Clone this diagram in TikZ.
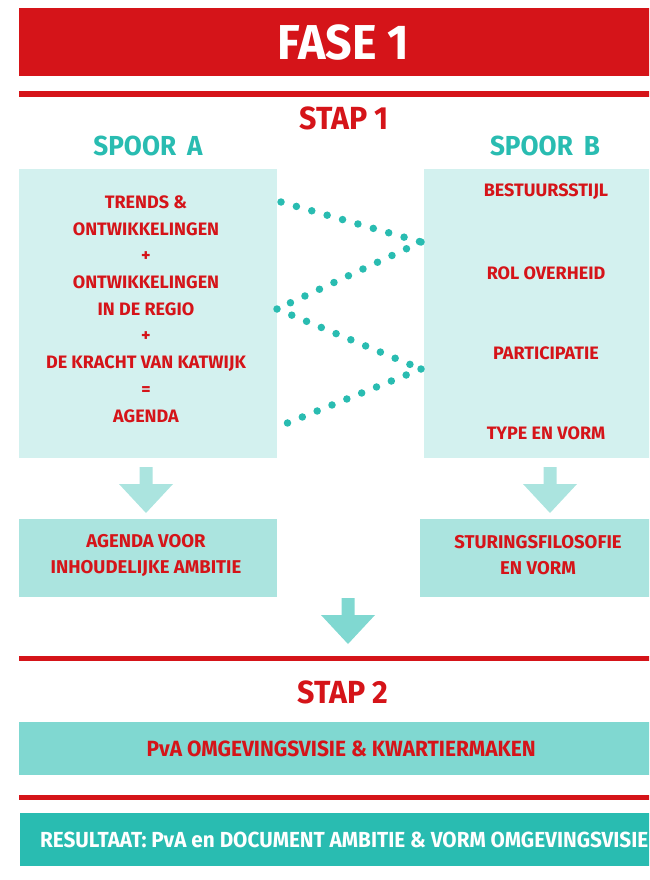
\documentclass[tikz,border=0pt]{standalone}
\usepackage{fontspec}
\newfontfamily\titlefont{Fira Sans}[FakeStretch=0.95]
\newfontfamily\boxfont{Fira Sans}[FakeStretch=1.0]
\usetikzlibrary{positioning,calc}

\definecolor{faseRed}{HTML}{D51419}
\definecolor{aquaLight}{HTML}{D3F1EF}
\definecolor{aquaMid}{HTML}{ABE4DF}
\definecolor{aquaDark}{HTML}{80D8D1}
\definecolor{spoorTeal}{HTML}{29BCB1}

\tikzset{
  redbar/.style={faseRed, line width=5.5pt},
  dots/.style={spoorTeal, line width=7.5pt, line cap=round, dash pattern=on 0pt off 16pt},
  area/.style={anchor=north west, inner sep=0pt},
  boxtext/.style={text=faseRed, align=center, font=\boxfont\bfseries\fontsize{18}{26.7}\selectfont},
  blockarrow/.pic={\fill[#1] (-6.5,0) -- (6.5,0) -- (6.5,17) -- (27,17) -- (0,46) -- (-27,17) -- (-6.5,17) -- cycle;}
}

\begin{document}
\begin{tikzpicture}[x=1pt,y=-1pt]
    \clip (0,0) rectangle (649,880) ;
    % fase 1
    \node[area, fill=faseRed, minimum width=649pt, minimum height=68pt, text=white,
          font=\titlefont\bfseries\fontsize{49}{49}\selectfont] (fase) at (19,8) {FASE 1} ;
    \draw[redbar] (19,94) -- (668,94) ;
    \node[text=faseRed, font=\titlefont\bfseries\fontsize{32}{32}\selectfont] (stap1) at (344,118) {STAP 1} ;
    \node[text=spoorTeal, font=\titlefont\bfseries\fontsize{27.5}{27.5}\selectfont] (spoorA) at (148,146) {SPOOR\hspace{0.4em}A} ;
    \node[text=spoorTeal, font=\titlefont\bfseries\fontsize{27.5}{27.5}\selectfont] (spoorB) at (545,146) {SPOOR\hspace{0.4em}B} ;
    % spoor a en b
    \node[area, fill=aquaLight, minimum width=258pt, minimum height=289pt] (trackA) at (19,169) {} ;
    \node[area, fill=aquaLight, minimum width=244pt, minimum height=289pt] (trackB) at (424,169) {} ;
    \node[boxtext] (agenda) at (146,309) {TRENDS \&\\ONTWIKKELINGEN\\+\\ONTWIKKELINGEN\\IN DE REGIO\\+\\DE KRACHT VAN KATWIJK\\=\\AGENDA} ;
    \node[boxtext] (stijl) at (546,192) {BESTUURSSTIJL} ;
    \node[boxtext] (rol) at (546,273) {ROL OVERHEID} ;
    \node[boxtext] (part) at (546,353) {PARTICIPATIE} ;
    \node[boxtext] (type) at (546,433) {TYPE EN VORM} ;
    % stippellijnen
    \coordinate (d1) at (281,202) ;
    \coordinate (d2) at (421,242) ;
    \coordinate (d3) at (277,309) ;
    \coordinate (d4) at (421,369) ;
    \coordinate (d5) at (285,424) ;
    \draw[dots] (d1) -- (d2) ;
    \draw[dots] (d2) -- (d3) ;
    \draw[dots] (d3) -- (d4) ;
    \draw[dots] (d4) -- (d5) ;
    % resultaat stap 1
    \pic at (146,467) {blockarrow=aquaMid} ;
    \pic at (550,467) {blockarrow=aquaMid} ;
    \node[area, fill=aquaMid, minimum width=258pt, minimum height=78pt] (goalA) at (19,519) {} ;
    \node[area, fill=aquaMid, minimum width=236pt, minimum height=78pt] (goalB) at (420,519) {} ;
    \node[boxtext, font=\boxfont\bfseries\fontsize{18.5}{26}\selectfont] (ambitie) at (146,555) {AGENDA VOOR\\INHOUDELIJKE AMBITIE} ;
    \node[boxtext, font=\boxfont\bfseries\fontsize{18.5}{26}\selectfont] (filosofie) at (538,555) {STURINGSFILOSOFIE\\EN VORM} ;
    \pic at (348,598) {blockarrow=aquaDark} ;
    \draw[redbar] (19,658.5) -- (668,658.5) ;
    % stap 2
    \node[text=faseRed, font=\titlefont\bfseries\fontsize{32}{32}\selectfont] (stap2) at (343,692) {STAP 2} ;
    \node[area, fill=aquaDark, minimum width=644pt, minimum height=53pt, text=faseRed,
          font=\titlefont\bfseries\fontsize{22}{22}\selectfont] (pva) at (19,722) {PvA OMGEVINGSVISIE \& KWARTIERMAKEN} ;
    \draw[redbar] (19,797.5) -- (668,797.5) ;
    \node[area, fill=spoorTeal, minimum width=648pt, minimum height=53pt, text=white,
          font=\titlefont\bfseries\fontsize{21.8}{21.8}\selectfont] (result) at (20,813) {RESULTAAT: PvA en DOCUMENT AMBITIE \& VORM OMGEVINGSVISIE} ;
\end{tikzpicture}
\end{document}
